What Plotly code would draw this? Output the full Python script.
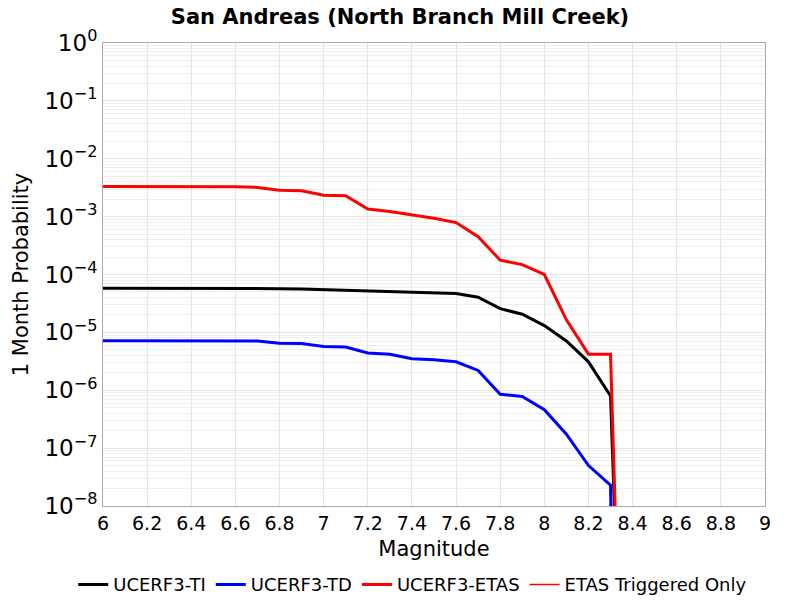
import plotly.graph_objects as go

magnitudes = [6.0, 6.1, 6.2, 6.3, 6.4, 6.5, 6.6, 6.7, 6.8, 6.9, 7.0, 7.1, 7.2, 7.3,
              7.4, 7.5, 7.6, 7.7, 7.8, 7.9, 8.0, 8.1, 8.2, 8.3, 8.4]

ucerf3_ti = [5.8e-5, 5.8e-5, 5.8e-5, 5.8e-5, 5.8e-5, 5.8e-5, 5.8e-5, 5.75e-5, 5.7e-5, 5.6e-5,
             5.45e-5, 5.4e-5, 5.2e-5, 5.1e-5, 5.0e-5, 4.85e-5, 4.7e-5, 4.05e-5, 2.57e-5, 2.06e-5,
             1.31e-5, 7.1e-6, 3.1e-6, 8.0e-7, 1e-17]

ucerf3_td = [7.2e-6, 7.2e-6, 7.2e-6, 7.2e-6, 7.2e-6, 7.2e-6, 7.15e-6, 7.1e-6, 6.5e-6, 6.4e-6,
             5.7e-6, 5.6e-6, 4.4e-6, 4.2e-6, 3.5e-6, 3.35e-6, 3.1e-6, 2.2e-6, 8.5e-7, 7.8e-7,
             4.6e-7, 1.74e-7, 5.0e-8, 2.3e-8, 1e-30]

ucerf3_etas = [3.3e-3, 3.3e-3, 3.3e-3, 3.3e-3, 3.3e-3, 3.3e-3, 3.28e-3, 3.2e-3, 2.86e-3, 2.8e-3,
               2.34e-3, 2.3e-3, 1.35e-3, 1.23e-3, 1.07e-3, 9.4e-4, 7.9e-4, 4.5e-4, 1.77e-4, 1.48e-4,
               1.0e-4, 1.65e-5, 4.2e-6, 4.2e-6, 1e-18]

etas_triggered_only = [0.0] * len(magnitudes)

y_tick_vals = [1e-8, 1e-7, 1e-6, 1e-5, 1e-4, 1e-3, 1e-2, 1e-1, 1e0]
y_tick_text = ["10<sup>−8</sup>", "10<sup>−7</sup>", "10<sup>−6</sup>", "10<sup>−5</sup>",
               "10<sup>−4</sup>", "10<sup>−3</sup>", "10<sup>−2</sup>", "10<sup>−1</sup>",
               "10<sup>0</sup>"]
x_tick_vals = [6.0, 6.2, 6.4, 6.6, 6.8, 7.0, 7.2, 7.4, 7.6, 7.8, 8.0, 8.2, 8.4, 8.6, 8.8, 9.0]
x_tick_text = ["6", "6.2", "6.4", "6.6", "6.8", "7", "7.2", "7.4", "7.6", "7.8",
               "8", "8.2", "8.4", "8.6", "8.8", "9"]

FONT = "DejaVu Sans"

fig = go.Figure()
fig.add_trace(go.Scatter(x=magnitudes, y=ucerf3_ti, mode="lines", name="UCERF3-TI",
                         line=dict(color="black", width=3)))
fig.add_trace(go.Scatter(x=magnitudes, y=ucerf3_td, mode="lines", name="UCERF3-TD",
                         line=dict(color="#0000ff", width=3)))
fig.add_trace(go.Scatter(x=magnitudes, y=ucerf3_etas, mode="lines", name="UCERF3-ETAS",
                         line=dict(color="#ff0000", width=3)))
fig.add_trace(go.Scatter(x=magnitudes, y=etas_triggered_only, mode="lines",
                         name="ETAS Triggered Only",
                         line=dict(color="#ff0000", width=1.5)))

fig.update_layout(
    width=800, height=600,
    margin=dict(l=103, r=35, t=43, b=94, autoexpand=False),
    paper_bgcolor="white", plot_bgcolor="white",
    font=dict(family=FONT, color="black"),
    title=dict(text="<b>San Andreas (North Branch Mill Creek)</b>", x=0.5, xanchor="center",
               y=0.985, yanchor="top", font=dict(size=21, family=FONT, color="black")),
    showlegend=True,
    legend=dict(orientation="h", x=-0.045, xanchor="left",
                y=-0.13, yanchor="top",
                font=dict(size=18, family=FONT), itemwidth=30, tracegroupgap=0,
                bgcolor="rgba(0,0,0,0)"),
    xaxis=dict(range=[6, 9], tickvals=x_tick_vals, ticktext=x_tick_text,
               showgrid=True, gridcolor="#e6e6e6", gridwidth=1,
               showline=True, linecolor="#aaaaaa", linewidth=1, mirror=True,
               ticks="", zeroline=False, automargin=True,
               tickfont=dict(size=19, family=FONT),
               title=dict(text="Magnitude", font=dict(size=21, family=FONT), standoff=8)),
    yaxis=dict(type="log", range=[-8, 0], tickvals=y_tick_vals, ticktext=y_tick_text,
               showgrid=True, gridcolor="#e6e6e6", gridwidth=1,
               minor=dict(dtick="D1", showgrid=True, gridcolor="#efefef", ticks=""),
               showline=True, linecolor="#aaaaaa", linewidth=1, mirror=True,
               ticks="", zeroline=False, automargin=True,
               tickfont=dict(size=23, family=FONT),
               title=dict(text="1 Month Probability", font=dict(size=21, family=FONT), standoff=10)),
)

fig.write_html("out.html")
